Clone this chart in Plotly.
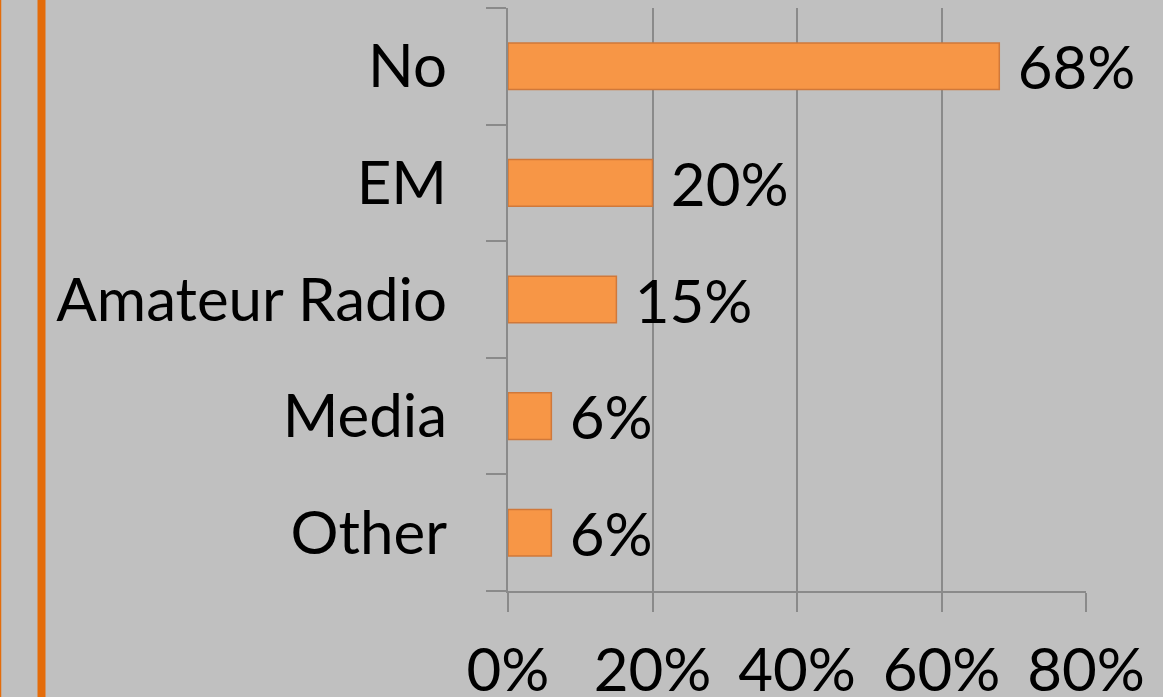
import plotly.graph_objects as go

categories = ["No", "EM", "Amateur Radio", "Media", "Other"]
values = [68, 20, 15, 6, 6]
labels = ["68%", "20%", "15%", "6%", "6%"]
tick_vals = [0, 20, 40, 60, 80]
tick_text = ["0%", "20%", "40%", "60%", "80%"]

FONT = "Lato"
FS = 60
BG = "#c0c0c0"
GRID = "#8a8a8a"

fig = go.Figure()
fig.add_trace(go.Bar(
    y=categories,
    x=values,
    orientation="h",
    width=0.40,
    marker=dict(color="#f79646", line=dict(color="#d0783a", width=1.5)),
    text=[" " + t for t in labels],
    textposition="outside",
    constraintext="none",
    cliponaxis=False,
    textfont=dict(family=FONT, size=FS, color="black"),
))

fig.update_layout(
    width=1163,
    height=697,
    paper_bgcolor=BG,
    plot_bgcolor=BG,
    margin=dict(l=508, r=77, t=8, b=106, autoexpand=False),
    showlegend=False,
    font=dict(family=FONT, size=FS, color="black"),
    shapes=[
        dict(type="line", xref="paper", yref="paper",
             x0=(41.5 - 508) / 578, x1=(41.5 - 508) / 578, y0=-0.3, y1=1.05,
             line=dict(color="#e46c0a", width=8)),
        dict(type="line", xref="paper", yref="paper",
             x0=(0.5 - 508) / 578, x1=(0.5 - 508) / 578, y0=-0.3, y1=1.05,
             line=dict(color="#e46c0a", width=1.5)),
    ],
)

fig.update_xaxes(
    range=[0, 80],
    tickvals=tick_vals,
    ticktext=tick_text,
    showgrid=True,
    gridcolor=GRID,
    gridwidth=2,
    zeroline=False,
    showline=True,
    linecolor=GRID,
    linewidth=2,
    ticks="outside",
    ticklen=19,
    tickwidth=2,
    tickcolor=GRID,
    ticklabelstandoff=7,
    automargin=False,
    tickfont=dict(family=FONT, size=FS, color="black"),
)

fig.update_yaxes(
    categoryorder="array",
    categoryarray=categories[::-1],
    range=[-0.5, 4.5],
    tickson="boundaries",
    showgrid=False,
    zeroline=False,
    showline=True,
    linecolor=GRID,
    linewidth=2,
    ticks="outside",
    ticklen=20,
    tickwidth=2,
    tickcolor=GRID,
    ticklabelstandoff=47,
    automargin=False,
    tickfont=dict(family=FONT, size=FS, color="black"),
)

fig.write_html(
    "out.html",
    config={"displayModeBar": False},
    post_script="document.body.style.margin='0';document.body.style.background='#c0c0c0';document.body.style.overflow='hidden';",
)
